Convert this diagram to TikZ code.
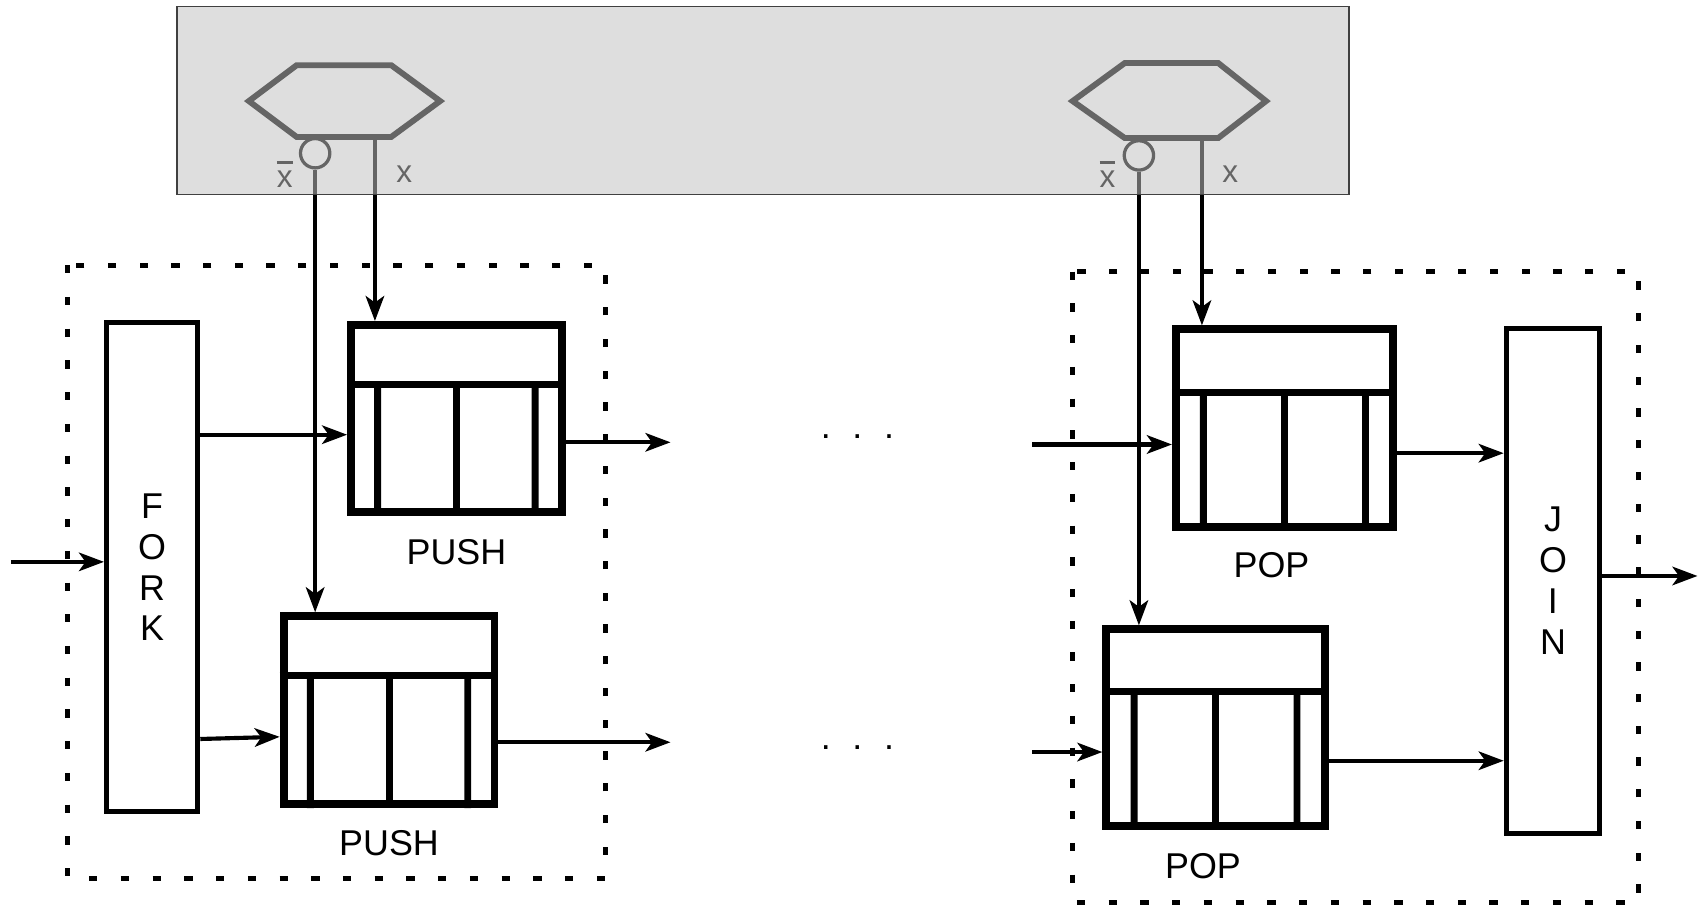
\documentclass[tikz,border=0pt]{standalone}
\usepackage{fontspec}
\setmainfont{Liberation Sans}
\usetikzlibrary{arrows.meta,calc}
\newcommand\queuebox[5]{%
  \node[qframe, minimum width=#4*0.5pt, minimum height=#5*0.5pt] (#1) at (#2,#3) {};
  \coordinate (#1-dl) at ($(#1.north west)!0.325!(#1.south west)$);
  \coordinate (#1-dr) at ($(#1.north east)!0.325!(#1.south east)$);
  \draw[qdiv] (#1-dl) -- (#1-dr);
  \foreach \f in {0.14,0.5,0.86} \draw[qdiv] ($(#1-dl)!\f!(#1-dr)$) -- ($(#1.south west)!\f!(#1.south east)$);
}
\begin{document}
\begin{tikzpicture}[x=0.5pt,y=-0.5pt,
  arr/.style={line width=1.9pt,-{Stealth[length=11.5pt,width=8.5pt,inset=3pt]}},
  hexline/.style={line width=2.7pt,line join=miter},
  qframe/.style={draw,rectangle,line width=3.6pt,inner sep=0pt},
  qdiv/.style={line width=3.2pt},
  tallbox/.style={draw,rectangle,line width=2.3pt,inner sep=0pt,align=center,
     font=\fontsize{16.5}{18.8}\selectfont},
  dotbox/.style={line width=2.3pt,dash pattern=on 3.8pt off 10.8pt},
  lab/.style={inner sep=0pt,font=\fontsize{16.5}{19}\selectfont},
  xlab/.style={inner sep=0pt,font=\fontsize{14.5}{17}\selectfont},
  inv/.style={draw,circle,line width=1.5pt,minimum size=13.5pt,inner sep=0pt},
  ]
\useasboundingbox (0,0) rectangle (1568,836);

% helper levels
\coordinate (y400) at (0,400); \coordinate (y407) at (0,407);
\coordinate (y680) at (0,680); \coordinate (y678) at (0,678);
\coordinate (y683) at (0,683); \coordinate (y409) at (0,409);
\coordinate (y692) at (0,692); \coordinate (y417) at (0,417);
\coordinate (y700) at (0,700); \coordinate (y530) at (0,530);
\coordinate (y517) at (0,517);

% dotted groups
\draw[dotbox] (62,244) rectangle (557,808);
\draw[dotbox] (987,250) rectangle (1508,830);

% boxes
\node[tallbox, minimum width=42pt, minimum height=225pt] (fork) at (140,522) {F\\O\\R\\K};
\node[tallbox, minimum width=43pt, minimum height=232.5pt] (join) at (1429,534.5) {J\\O\\I\\N};
\queuebox{push1}{420}{385}{194}{172}
\queuebox{push2}{358}{653.5}{194}{173}
\queuebox{pop1}{1182}{394}{200}{182}
\queuebox{pop2}{1118.5}{669.5}{201}{181}

\node[lab] (lp1) at (420,508) {PUSH};
\node[lab] (lp2) at (358,776) {PUSH};
\node[lab] (lq1) at (1170,520) {POP};
\node[lab] (lq2) at (1107,797) {POP};

\node[lab] (d1) at (789,402) {.\hspace{10pt}.\hspace{10pt}.};
\node[lab] (d2) at (789,688) {.\hspace{10pt}.\hspace{10pt}.};

% control hexagons
\draw[hexline] (229,93) coordinate (h1l) -- (273,60) -- (360,60) -- (405,93) -- (360,126) coordinate (h1br) -- (273,126) coordinate (h1bl) -- cycle;
\draw[hexline] (987,93) coordinate (h2l) -- (1035,58) -- (1121,58) -- (1165,93) -- (1121,127) coordinate (h2br) -- (1035,127) coordinate (h2bl) -- cycle;
\node[inv] (c1) at (290,141) {};
\node[inv] (c2) at (1048,143) {};
\coordinate (h1x) at (345,126);
\coordinate (h2x) at (1106,127);
\node[xlab] (xb1) at (262,160) {\rlap{\raisebox{0.74em}{\rule{0.5em}{0.1em}}}x};
\node[xlab] (xx1) at (372,160) {x};
\node[xlab] (xb2) at (1019,160) {\rlap{\raisebox{0.74em}{\rule{0.5em}{0.1em}}}x};
\node[xlab] (xx2) at (1132,160) {x};

% control lines
\draw[arr] (h1x) -- (h1x |- push1.north);
\draw[arr] (c1.south) -- (c1.south |- push2.north);
\draw[arr] (h2x) -- (h2x |- pop1.north);
\draw[arr] (c2.south) -- (c2.south |- pop2.north);

% overlay
\fill[black!24.7, fill opacity=0.53] (163,6) rectangle (1241,179);
\draw[black!75, line width=0.8pt] (163,6) rectangle (1241,179);

% data flow
\coordinate (in) at (10,517);
\draw[arr] (in) -- (in -| fork.west);
\draw[arr] (fork.east |- y400) -- (push1.west |- y400);
\draw[arr] (fork.east |- y680) -- (push2.west |- y678);
\coordinate (o1) at (617,407);
\coordinate (o2) at (617,683);
\draw[arr] (push1.east |- y407) -- (o1);
\draw[arr] (push2.east |- y683) -- (o2);
\coordinate (i1) at (950,409);
\coordinate (i2) at (950,692);
\draw[arr] (i1) -- (pop1.west |- y409);
\draw[arr] (i2) -- (pop2.west |- y692);
\draw[arr] (pop1.east |- y417) -- (join.west |- y417);
\draw[arr] (pop2.east |- y700) -- (join.west |- y700);
\coordinate (jo) at (1562,530);
\draw[arr] (join.east |- y530) -- (jo);
\end{tikzpicture}
\end{document}
